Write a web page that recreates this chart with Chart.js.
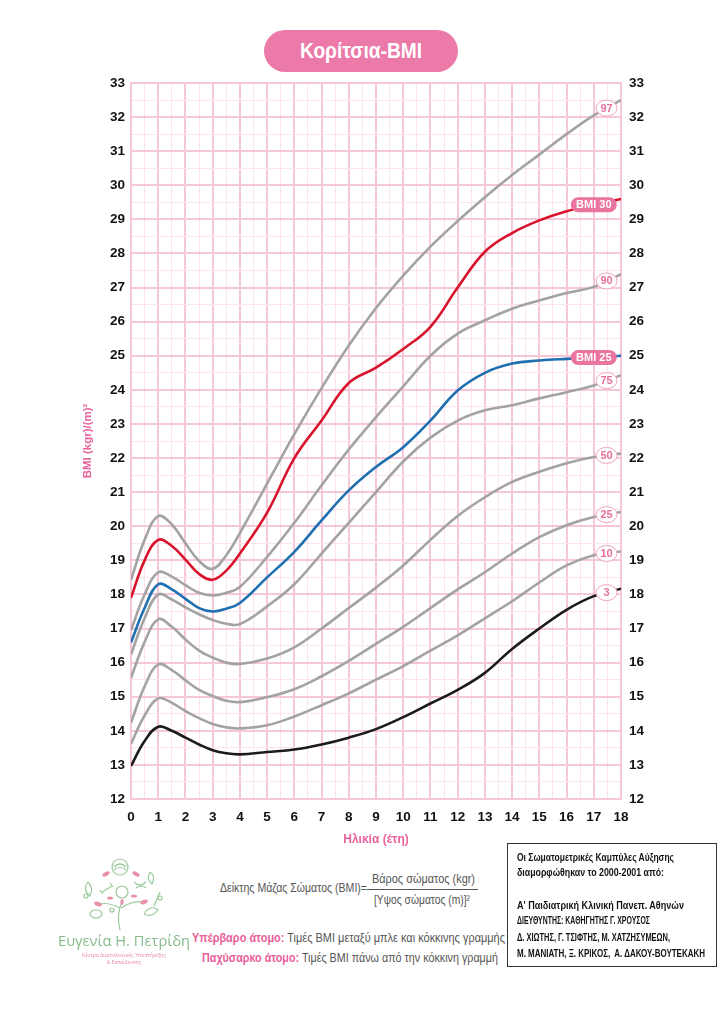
<!DOCTYPE html>
<html>
<head>
    <title>Κορίτσια-BMI</title>
    <script src="https://cdn.jsdelivr.net/npm/chart.js"></script>
    <style>
        body {
            margin: 0;
            background: #fff;
            font-family: 'Liberation Sans', Arial, sans-serif;
        }
        .page {
            position: relative;
            width: 724px;
            height: 1024px;
            overflow: hidden;
        }
        .chart-container {
            position: absolute;
            left: 0;
            top: 0;
            width: 724px;
            height: 860px;
        }
        .pill {
            position: absolute;
            left: 264px;
            top: 30px;
            width: 194px;
            height: 42px;
            border-radius: 21px;
            background: #ec7aa9;
        }
        .t {
            position: absolute;
            white-space: nowrap;
            line-height: 1.2;
            transform-origin: left center;
        }
        .gray { color: #555; }
        .pk { color: #e8609b; font-weight: bold; }
        .box {
            position: absolute;
            left: 507px;
            top: 843px;
            width: 210px;
            height: 124px;
            border: 1.5px solid #333;
            box-sizing: border-box;
        }
        .boxt { color: #111; font-weight: bold; }
    </style>
</head>
<body>
<div class="page">
    <div class="chart-container">
        <canvas id="bmiChart"></canvas>
    </div>
    <div class="pill"></div>
    <span class="t" data-w="122" style="left:300px; top:38.4px; font-size:22px; font-weight:bold; color:#fff">Κορίτσια-BMI</span>

    <span class="t gray" data-w="147" style="left:220px; top:880.5px; font-size:12.5px">Δείκτης Μάζας Σώματος (BMI)=</span>
    <span class="t gray" data-w="103" style="left:372px; top:871.5px; font-size:12.5px">Βάρος σώματος (kgr)</span>
    <div style="position:absolute; left:367px; top:889px; width:111px; height:1px; background:#555"></div>
    <span class="t gray" data-w="96" style="left:374px; top:892.5px; font-size:12.5px">[Υψος σώματος (m)]²</span>

    <span class="t gray" data-w="313" style="left:192px; top:929.9px; font-size:13.5px"><span class="pk">Υπέρβαρο άτομο:</span> Τιμές BMI μεταξύ μπλε και κόκκινης γραμμής</span>
    <span class="t gray" data-w="296" style="left:202px; top:949.9px; font-size:13.5px"><span class="pk">Παχύσαρκο άτομο:</span> Τιμές BMI πάνω από την κόκκινη γραμμή</span>

    <div class="box"></div>
    <span class="t boxt" data-w="157" style="left:517px; top:851.4px; font-size:11px">Οι Σωματομετρικές Καμπύλες Αύξησης</span>
    <span class="t boxt" data-w="147" style="left:517px; top:866.4px; font-size:11px">διαμορφώθηκαν το 2000-2001 από:</span>
    <span class="t boxt" data-w="167" style="left:517px; top:899.4px; font-size:11px">Α' Παιδιατρική Κλινική Πανεπ. Αθηνών</span>
    <span class="t boxt" data-w="133" style="left:517px; top:915px; font-size:10px">ΔΙΕΥΘΥΝΤΗΣ: ΚΑΘΗΓΗΤΗΣ Γ. ΧΡΟΥΣΟΣ</span>
    <span class="t boxt" data-w="153" style="left:517px; top:932px; font-size:10px">Δ. ΧΙΩΤΗΣ, Γ. ΤΣΙΦΤΗΣ, Μ. ΧΑΤΖΗΣΥΜΕΩΝ,</span>
    <span class="t boxt" data-w="188" style="left:517px; top:948px; font-size:10px">Μ. ΜΑΝΙΑΤΗ, Ξ. ΚΡΙΚΟΣ,&nbsp; Α. ΔΑΚΟΥ-ΒΟΥΤΕΚΑΚΗ</span>

    <svg style="position:absolute; left:50px; top:852px" width="145" height="80" viewBox="0 0 145 80">
        <g fill="none" stroke="#9cc99c" stroke-width="1.2">
            <circle cx="70" cy="15" r="8"/>
            <path d="M64 15 q6 -6 12 0 M64 18 q6 -5 12 0"/>
            <circle cx="72" cy="40" r="6"/>
            <path d="M70 78 q-4 -16 2 -28 M70 56 q-12 -6 -20 -4 M71 56 q12 -8 22 -6"/>
            <path d="M38 30 q-6 8 2 14 q4 -8 -2 -14"/>
            <path d="M52 40 l10 -6 M50 38 l3 4 M60 31 l3 4"/>
            <path d="M84 30 q6 6 12 0 M86 36 q5 -4 10 0"/>
            <path d="M100 20 q6 4 2 12 q-6 -4 -2 -12"/>
            <path d="M110 40 l-6 14"/>
            <ellipse cx="46" cy="62" rx="6" ry="4"/>
            <path d="M94 62 q6 -10 14 -4 q-6 8 -14 4"/>
            <circle cx="36" cy="44" r="2"/>
            <circle cx="110" cy="46" r="2"/>
            <circle cx="62" cy="58" r="2"/>
        </g>
        <g fill="#e892a8">
            <ellipse cx="56" cy="22" rx="4" ry="2" transform="rotate(-30 56 22)"/>
            <ellipse cx="86" cy="22" rx="4" ry="2" transform="rotate(30 86 22)"/>
            <ellipse cx="48" cy="52" rx="4" ry="2" transform="rotate(20 48 52)"/>
            <ellipse cx="94" cy="50" rx="4" ry="2" transform="rotate(-20 94 50)"/>
            <ellipse cx="60" cy="46" rx="3" ry="1.6"/>
            <ellipse cx="84" cy="44" rx="3" ry="1.6"/>
            <ellipse cx="72" cy="50" rx="3" ry="1.6" transform="rotate(90 72 50)"/>
        </g>
    </svg>
    <span class="t" data-w="132" style="left:58px; top:931px; font-size:15px; font-family:'Open Sans',sans-serif; color:#86bb8a">Ευγενία Η. Πετρίδη</span>
    <span class="t" data-w="84" style="left:82px; top:951.5px; font-size:5.5px; font-family:'Open Sans',sans-serif; color:#e8889f">Κέντρο Διαιτολογικής Υποστήριξης</span>
    <span class="t" data-w="34" style="left:107px; top:958.5px; font-size:5.5px; font-family:'Open Sans',sans-serif; color:#e8889f">&amp; Εκπαίδευσης</span>
</div>

<script>
    // κείμενα: στενεύουμε στο πλάτος του πρωτοτύπου
    document.querySelectorAll('[data-w]').forEach(el => {
        const w = el.getBoundingClientRect().width;
        el.style.transform = 'scaleX(' + (Number(el.dataset.w) / w) + ')';
    });

    // δεδομένα (ηλικία σε έτη, BMI)
    const ages = [0, 0.5, 1, 1.5, 2, 2.5, 3, 3.5, 4, 5, 6, 7, 8, 9, 10, 11, 12, 13, 14, 15, 16, 17, 18];

    const p97   = [18.43, 19.60, 20.30, 20.05, 19.50, 18.98, 18.75, 19.15, 19.80, 21.25, 22.70, 24.05, 25.30, 26.40, 27.35, 28.20, 28.95, 29.65, 30.30, 30.90, 31.50, 32.05, 32.50];
    const bmi30 = [17.90, 19.00, 19.60, 19.42, 19.02, 18.60, 18.43, 18.70, 19.20, 20.40, 22.00, 23.10, 24.20, 24.65, 25.20, 25.85, 27.00, 28.05, 28.60, 28.97, 29.24, 29.43, 29.60];
    const p90   = [16.95, 18.00, 18.65, 18.52, 18.27, 18.05, 17.97, 18.05, 18.22, 19.10, 20.10, 21.20, 22.25, 23.20, 24.10, 25.00, 25.65, 26.04, 26.38, 26.62, 26.84, 27.02, 27.39];
    const bmi25 = [16.59, 17.60, 18.30, 18.15, 17.87, 17.60, 17.50, 17.58, 17.75, 18.50, 19.25, 20.17, 21.05, 21.74, 22.32, 23.10, 23.98, 24.50, 24.77, 24.86, 24.91, 24.95, 25.00];
    const p75   = [16.24, 17.30, 18.00, 17.85, 17.62, 17.42, 17.25, 17.14, 17.13, 17.65, 18.30, 19.20, 20.10, 21.00, 21.90, 22.60, 23.10, 23.40, 23.55, 23.75, 23.93, 24.13, 24.43];
    const p50   = [15.55, 16.60, 17.27, 17.05, 16.68, 16.35, 16.15, 16.00, 15.96, 16.12, 16.45, 17.00, 17.60, 18.20, 18.85, 19.60, 20.30, 20.85, 21.30, 21.60, 21.85, 22.03, 22.13];
    const p25   = [14.24, 15.30, 15.95, 15.78, 15.48, 15.20, 15.02, 14.88, 14.84, 14.99, 15.22, 15.60, 16.05, 16.55, 17.05, 17.60, 18.15, 18.65, 19.20, 19.68, 20.03, 20.27, 20.42];
    const p10   = [13.62, 14.45, 14.95, 14.82, 14.58, 14.37, 14.20, 14.10, 14.07, 14.16, 14.42, 14.75, 15.10, 15.50, 15.90, 16.35, 16.80, 17.30, 17.80, 18.35, 18.85, 19.15, 19.26];
    const p3    = [12.97, 13.70, 14.12, 14.00, 13.80, 13.60, 13.43, 13.34, 13.31, 13.38, 13.45, 13.60, 13.80, 14.05, 14.40, 14.80, 15.20, 15.70, 16.40, 17.00, 17.55, 17.95, 18.17];

    const curveNames = ['97', 'BMI 30', '90', 'BMI 25', '75', '50', '25', '10', '3'];
    const curveData  = [p97, bmi30, p90, bmi25, p75, p50, p25, p10, p3];
    const curveColors = ['#a3a3a3', '#d8142c', '#a3a3a3', '#1f70b0', '#a3a3a3', '#a3a3a3', '#a3a3a3', '#a3a3a3', '#1b1b1b'];

    const yRange = [12, 33];
    const xRange = [0, 18];

    const FONT = "'Liberation Sans', Arial, sans-serif";
    const PINK = '#e8639b';
    const GRID_MAJOR = '#f6c6d9';
    const GRID_MINOR = '#fce4ee';

    function points(arr) {
        return arr.map((v, i) => ({ x: ages[i], y: v }));
    }

    // ετικέτες καμπυλών στο δεξί άκρο
    const tagPlugin = {
        id: 'tags',
        afterDatasetsDraw(chart) {
            const ctx = chart.ctx;
            const xs = chart.scales.x, ys = chart.scales.y;
            const n = ages.length;
            curveNames.forEach((name, i) => {
                const arr = curveData[i];
                const isBmi = name.startsWith('BMI');
                const t = isBmi ? 17 : 17.47;
                const f = (t - ages[n - 2]) / (ages[n - 1] - ages[n - 2]);
                const v = arr[n - 2] + f * (arr[n - 1] - arr[n - 2]);
                const px = xs.getPixelForValue(t);
                const py = ys.getPixelForValue(v);
                ctx.save();
                ctx.font = 'bold 11px ' + FONT;
                if (isBmi) {
                    const w = 46, h = 15;
                    ctx.fillStyle = '#e9749f';
                    ctx.beginPath();
                    ctx.roundRect(px - w / 2, py - h / 2, w, h, h / 2);
                    ctx.fill();
                    ctx.fillStyle = '#fff';
                } else {
                    ctx.fillStyle = '#fff';
                    ctx.strokeStyle = '#efa3c2';
                    ctx.lineWidth = 1;
                    ctx.beginPath();
                    ctx.ellipse(px, py, 10.5, 8, 0, 0, Math.PI * 2);
                    ctx.fill();
                    ctx.stroke();
                    ctx.fillStyle = '#e8709f';
                }
                ctx.textAlign = 'center';
                ctx.textBaseline = 'middle';
                ctx.fillText(name, px, py + 0.5);
                ctx.restore();
            });
        }
    };

    const gridColor = c => Number.isInteger(c.tick.value) ? GRID_MAJOR : GRID_MINOR;
    const gridWidth = c => Number.isInteger(c.tick.value) ? 2 : 1;
    const intLabel = v => Number.isInteger(v) ? v : '';
    const tickFont = { family: FONT, size: 13.5, weight: 'bold' };

    new Chart(document.getElementById('bmiChart').getContext('2d'), {
        type: 'line',
        data: {
            datasets: curveData.map((arr, i) => ({
                label: curveNames[i],
                data: points(arr),
                borderColor: curveColors[i],
                borderWidth: 2.6,
                pointRadius: 0,
                fill: false,
                tension: 0.4,
                order: curveColors[i] === '#a3a3a3' ? 2 : 1
            }))
        },
        options: {
            responsive: true,
            maintainAspectRatio: false,
            animation: false,
            layout: { padding: { top: 83, left: 0, right: 0, bottom: 0 } },
            plugins: {
                legend: { display: false },
                tooltip: { enabled: false }
            },
            scales: {
                x: {
                    type: 'linear',
                    min: xRange[0],
                    max: xRange[1],
                    afterFit: s => { s.height = 61; },
                    ticks: { stepSize: 0.5, autoSkip: false, maxRotation: 0, callback: intLabel, color: '#111', font: tickFont, padding: 10 },
                    grid: { color: gridColor, lineWidth: gridWidth, drawTicks: false },
                    border: { color: GRID_MAJOR, width: 2 },
                    title: { display: true, text: 'Ηλικία (έτη)', color: PINK, font: { family: FONT, size: 12, weight: 'bold' }, padding: { top: 0, bottom: 13 } }
                },
                y: {
                    type: 'linear',
                    position: 'left',
                    min: yRange[0],
                    max: yRange[1],
                    afterFit: s => { s.width = 131; },
                    ticks: { stepSize: 0.5, autoSkip: false, callback: intLabel, color: '#111', font: tickFont, padding: 6 },
                    grid: { color: gridColor, lineWidth: gridWidth, drawTicks: false },
                    border: { color: GRID_MAJOR, width: 2 },
                    title: { display: true, text: 'BMI (kgr)/(m)²', color: PINK, font: { family: FONT, size: 11.5, weight: 'bold' }, padding: { top: 81, bottom: 0 } }
                },
                y2: {
                    type: 'linear',
                    position: 'right',
                    min: yRange[0],
                    max: yRange[1],
                    afterFit: s => { s.width = 103; },
                    ticks: { stepSize: 0.5, autoSkip: false, callback: intLabel, color: '#111', font: tickFont, padding: 8 },
                    grid: { drawOnChartArea: false, drawTicks: false },
                    border: { color: GRID_MAJOR, width: 2 }
                }
            }
        },
        plugins: [tagPlugin]
    });
</script>
</body>
</html>
